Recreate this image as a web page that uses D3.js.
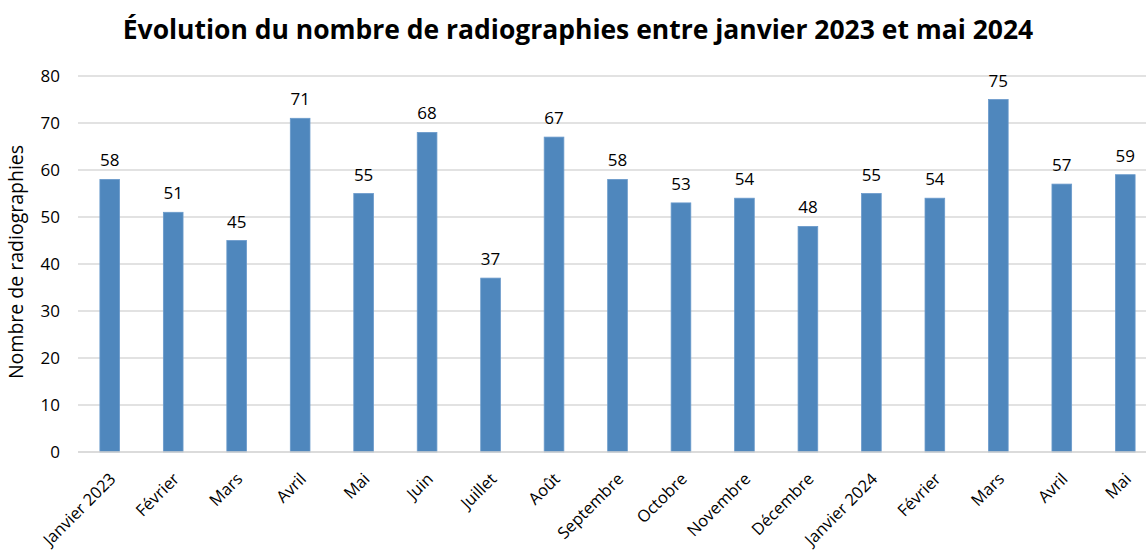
<!DOCTYPE html>
<html>
<head>
<meta charset="utf-8">
<script src="https://cdn.jsdelivr.net/npm/d3@7"></script>
<style>
  html, body { margin: 0; padding: 0; background: #fff; }
  text { font-family: "Open Sans", "Noto Sans", sans-serif; fill: #000; }
</style>
</head>
<body>
<div id="chart"></div>
<script>
// données
var mois = ["Janvier 2023", "Février", "Mars", "Avril", "Mai", "Juin", "Juillet", "Août",
            "Septembre", "Octobre", "Novembre", "Décembre", "Janvier 2024", "Février", "Mars", "Avril", "Mai"];
var radios = [58, 51, 45, 71, 55, 68, 37, 67, 58, 53, 54, 48, 55, 54, 75, 57, 59];
var yTicks = [0, 10, 20, 30, 40, 50, 60, 70, 80];

var titre = "Évolution du nombre de radiographies entre janvier 2023 et mai 2024";
var titreY = "Nombre de radiographies";

var width = 1146, height = 550;
var margin = { top: 76, left: 78, bottom: 98 };
var plotRight = 1157;   // le graphique est coupé à droite

var svg = d3.select("#chart").append("svg")
    .attr("width", width)
    .attr("height", height);

// clés uniques pour les mois répétés
var keys = mois.map(function(d, i) { return i; });

var x = d3.scaleBand()
    .domain(keys)
    .range([margin.left, plotRight])
    .paddingInner(0.69)
    .paddingOuter(0.345);

var y = d3.scaleLinear()
    .domain([0, 80])
    .range([height - margin.bottom, margin.top]);

// grille
svg.append("g")
    .selectAll("line")
    .data(yTicks.slice(1))
    .enter()
    .append("line")
    .attr("x1", margin.left)
    .attr("x2", width)
    .attr("y1", function(d) { return y(d); })
    .attr("y2", function(d) { return y(d); })
    .attr("stroke", "#d9d9d9")
    .attr("stroke-width", 1.3);

// axe y
var axisY = d3.axisLeft(y).tickValues(yTicks).tickSize(0).tickPadding(18);
var gY = svg.append("g")
    .attr("transform", "translate(" + margin.left + ",0)")
    .call(axisY);
gY.select(".domain").remove();
gY.selectAll("text")
    .style("font-size", "17px")
    .style("font-family", "'Open Sans', sans-serif");

// barres
svg.append("g")
    .selectAll("rect")
    .data(radios)
    .enter()
    .append("rect")
    .attr("x", function(d, i) { return x(i); })
    .attr("y", function(d) { return y(d); })
    .attr("width", x.bandwidth())
    .attr("height", function(d) { return y(0) - y(d); })
    .attr("fill", "#4f87bd")
    .attr("stroke", "#6a9acb")
    .attr("stroke-width", 0.8);

// ligne de base
svg.append("line")
    .attr("x1", margin.left)
    .attr("x2", width)
    .attr("y1", y(0))
    .attr("y2", y(0))
    .attr("stroke", "#cfcfcf")
    .attr("stroke-width", 1.5);

// étiquettes de valeurs
svg.append("g")
    .selectAll("text")
    .data(radios)
    .enter()
    .append("text")
    .attr("x", function(d, i) { return x(i) + x.bandwidth() / 2; })
    .attr("y", function(d) { return y(d) - 13; })
    .attr("text-anchor", "middle")
    .style("font-size", "17px")
    .text(function(d) { return d; });

// axe x
var axisX = d3.axisBottom(x).tickSize(0).tickFormat(function(i) { return mois[i]; });
var gX = svg.append("g")
    .attr("transform", "translate(0," + y(0) + ")")
    .call(axisX);
gX.select(".domain").remove();
gX.selectAll("text")
    .attr("text-anchor", "end")
    .attr("dx", 0)
    .attr("dy", 0)
    .attr("y", 0)
    .attr("transform", "translate(7,28) rotate(-45)")
    .style("font-size", "16.5px")
    .style("font-family", "'Open Sans', sans-serif");

// titre de l'axe y
svg.append("text")
    .attr("transform", "translate(23," + (y(40) - 2) + ") rotate(-90)")
    .attr("text-anchor", "middle")
    .style("font-size", "19.5px")
    .text(titreY);

// titre
var t = svg.append("text")
    .attr("x", 578)
    .attr("y", 39)
    .attr("text-anchor", "middle")
    .style("font-size", "24px")
    .style("font-weight", "bold")
    .text(titre);
// ajuster à la largeur de la référence
var w = t.node().getComputedTextLength();
t.style("font-size", (24 * 911 / w) + "px");
</script>
</body>
</html>
